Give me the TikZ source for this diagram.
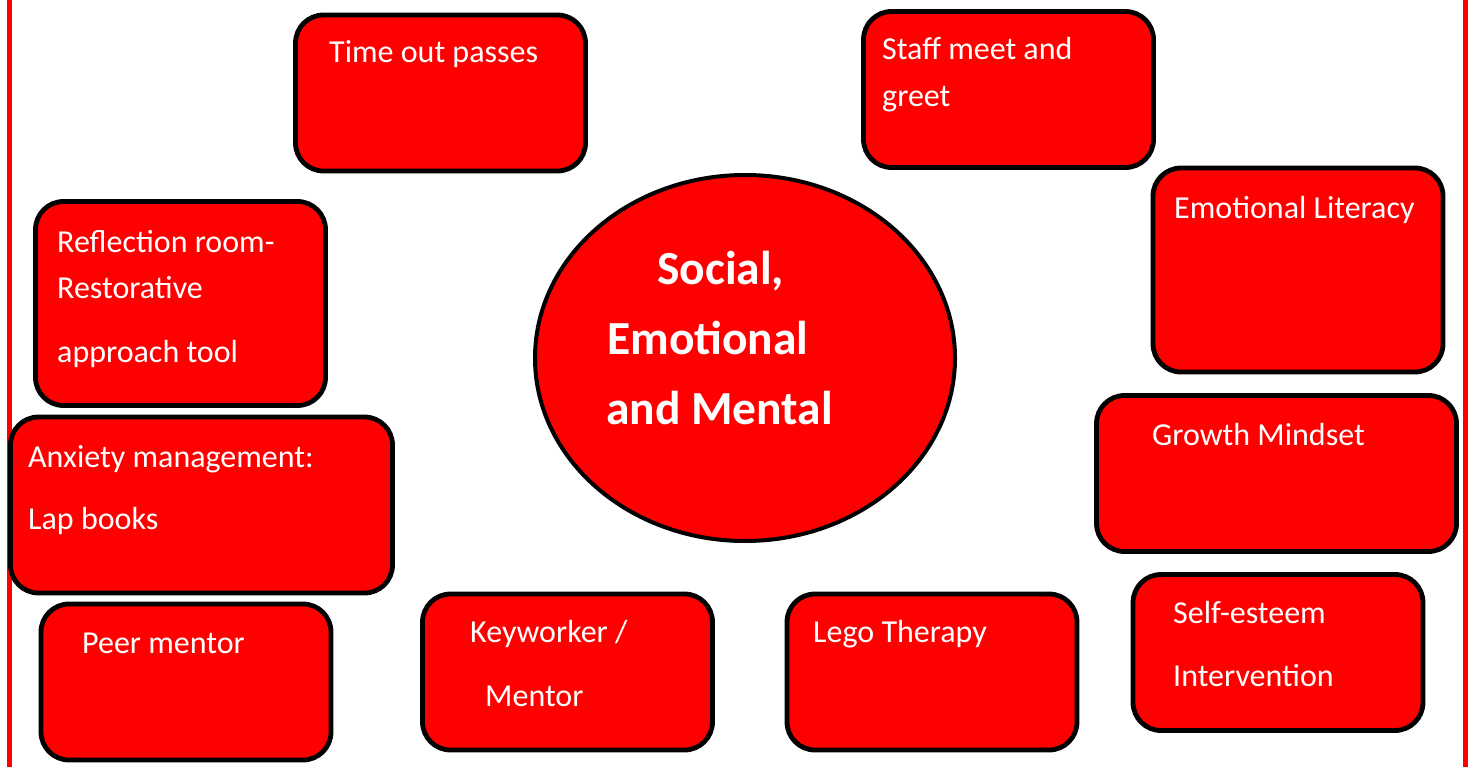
\documentclass[tikz,border=0pt]{standalone}
\usepackage{fontspec}
\setmainfont{Carlito}
\usetikzlibrary{shapes.geometric}
\definecolor{cellred}{RGB}{255,0,0}

\begin{document}
\begin{tikzpicture}[
        x=1pt, y=-1pt,
        box/.style={draw=black, line width=4.8pt, fill=cellred,
                    rounded corners=28pt, inner sep=0pt,
                    minimum width=290pt, minimum height=156pt},
        hub/.style={ellipse, draw=black, line width=4pt, fill=cellred,
                    inner sep=0pt, minimum width=420pt, minimum height=366pt},
        txt/.style={anchor=base west, inner sep=0pt, text=white,
                    font=\fontsize{32}{38}\selectfont},
        hubtxt/.style={txt, font=\fontsize{47.5}{54}\selectfont\bfseries},
        sideline/.style={draw=cellred, line width=5pt}]

    \useasboundingbox (0,0) rectangle (1471,767);

    % page edges
    \draw [sideline] (9.5,0) -- (9.5,767);
    \draw [sideline] (1465,0) -- (1465,767);

    % boxes
    \node [box]                           (timeout)    at (440.5,93)   {};
    \node [box]                           (staff)      at (1008.5,89.5) {};
    \node [box, minimum height=204pt]     (literacy)   at (1298,270)   {};
    \node [box, minimum height=204pt]     (reflection) at (180.5,303.5) {};
    \node [box, minimum width=382pt,
                minimum height=176pt]     (anxiety)    at (201.5,505)  {};
    \node [box, minimum width=360pt]      (growth)     at (1276.5,473.5) {};
    \node [box]                           (peer)       at (186,682)    {};
    \node [box]                           (keyworker)  at (567.5,672)  {};
    \node [box]                           (lego)       at (932,672)    {};
    \node [box]                           (selfesteem) at (1278,652.5) {};
    \node [hub]                           (hub)        at (745,358)    {};

    % labels
    \node [txt] (timeout-1)    at (329,63)   {Time out passes};
    \node [txt] (staff-1)      at (882,60)   {Staff meet and};
    \node [txt] (staff-2)      at (882,107)  {greet};
    \node [txt] (literacy-1)   at (1174,219) {Emotional Literacy};
    \node [txt] (reflection-1) at (57,252)   {Reflection room-};
    \node [txt] (reflection-2) at (57,298)   {Restorative};
    \node [txt] (reflection-3) at (57,362)   {approach tool};
    \node [txt] (anxiety-1)    at (28,467)   {Anxiety management:};
    \node [txt] (anxiety-2)    at (28,529)   {Lap books};
    \node [txt] (growth-1)     at (1152,445) {Growth Mindset};
    \node [txt] (peer-1)       at (82,653)   {Peer mentor};
    \node [txt] (keyworker-1)  at (470,642)  {Keyworker /};
    \node [txt] (keyworker-2)  at (485,706)  {Mentor};
    \node [txt] (lego-1)       at (813,642)  {Lego Therapy};
    \node [txt] (selfesteem-1) at (1173,623) {Self-esteem};
    \node [txt] (selfesteem-2) at (1173,686) {Intervention};

    \node [hubtxt] (hub-1) at (657,284) {Social,};
    \node [hubtxt] (hub-2) at (607,354) {Emotional};
    \node [hubtxt] (hub-3) at (606,424) {and Mental};
\end{tikzpicture}
\end{document}
